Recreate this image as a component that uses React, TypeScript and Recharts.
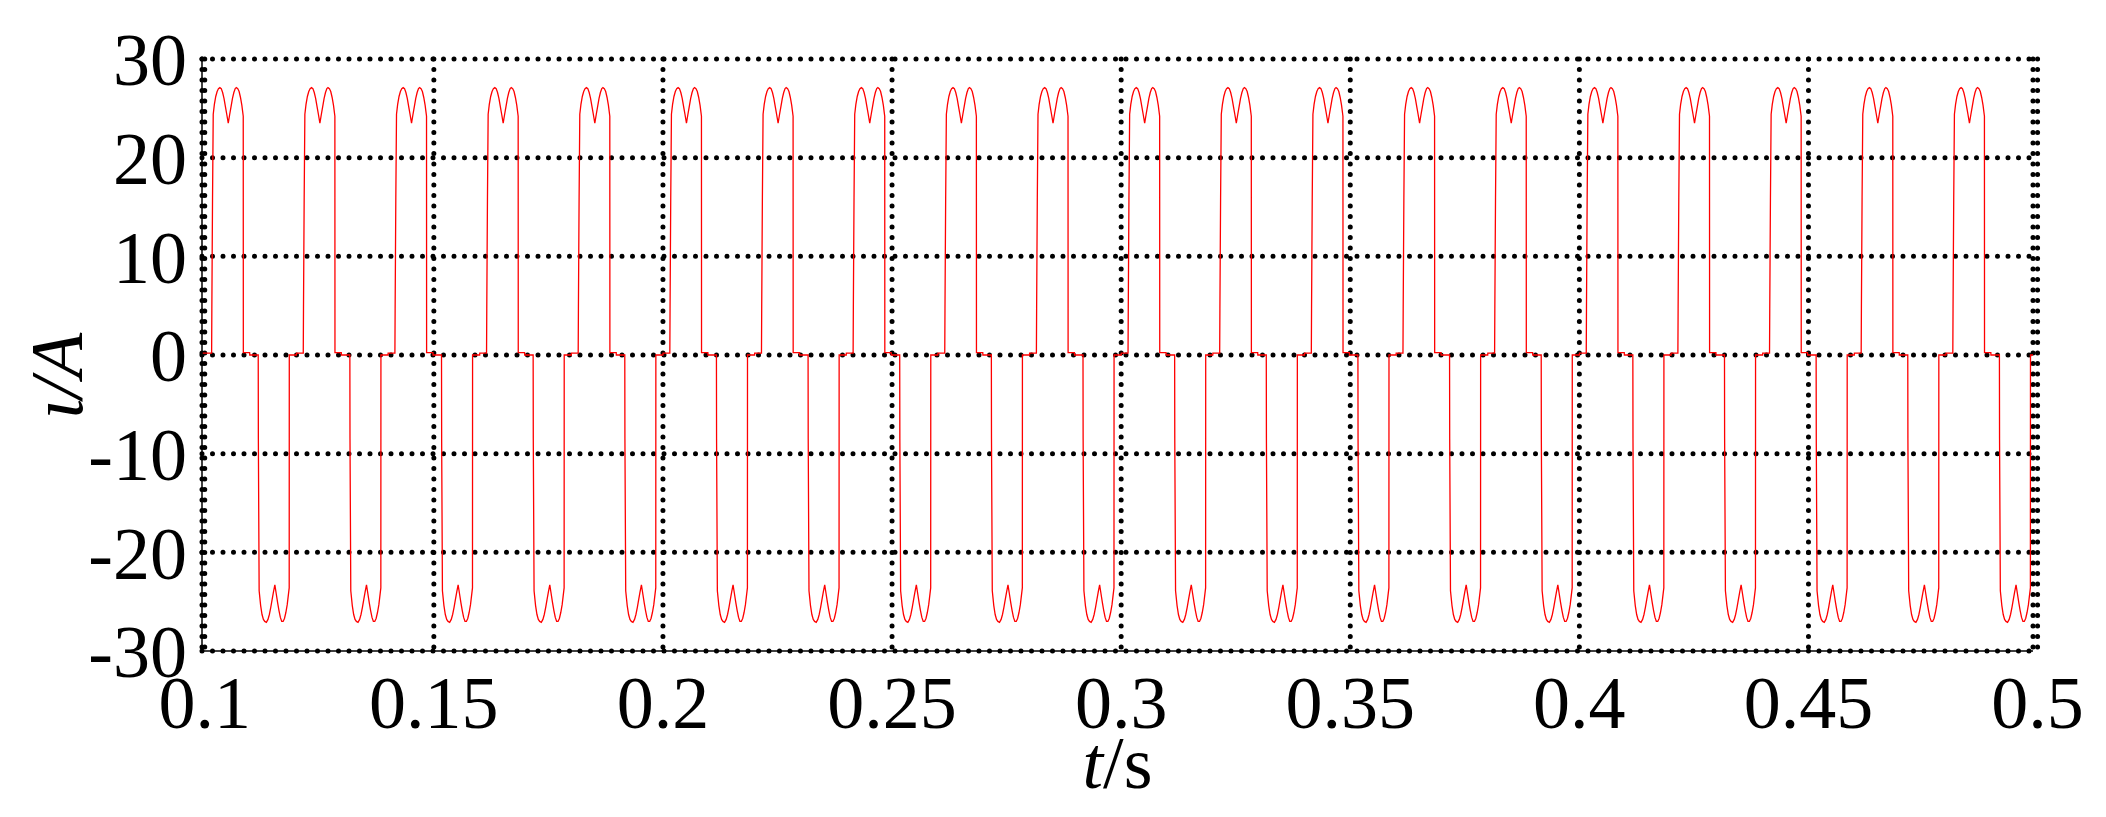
import React from 'react';
import { LineChart, Line, XAxis, YAxis, CartesianGrid, Label } from 'recharts';

// Axis ticks
const timeTicks = [0.1, 0.15, 0.2, 0.25, 0.3, 0.35, 0.4, 0.45, 0.5];
const currentTicks = [-30, -20, -10, 0, 10, 20, 30];
const timeDomain: [number, number] = [0.0994, 0.499];
const currentDomain: [number, number] = [-30, 30];

// Rise instants of each 20 ms period (s)
const periodStarts = [
  0.1015, 0.1215, 0.1415, 0.1615, 0.1815, 0.2015, 0.2215, 0.2415, 0.2615, 0.2815,
  0.3015, 0.3215, 0.3415, 0.3615, 0.3815, 0.4015, 0.4215, 0.4415, 0.4615, 0.4815,
];

// One period of the phase current: offsets from the rise (ms) and values (A)
const shapeOffsetsMs = [
  0, 0.05, 0.2, 0.35, 0.6, 0.9, 1.2, 1.5, 1.8, 2.1, 2.4, 2.7, 3.0, 3.3, 3.63,
  3.95, 4.25, 4.55, 4.85, 5.15, 5.4, 5.7, 6.0, 6.3, 6.6, 6.9, 6.92, 8.3, 8.32,
  10.17, 10.2, 10.37, 10.7, 11.0, 11.3, 11.6, 11.95, 12.3, 12.6, 12.9, 13.2, 13.5, 13.8,
  14.1, 14.4, 14.7, 15.0, 15.3, 15.6, 15.9, 16.2, 16.5, 16.93, 16.95, 18.5, 18.52, 19.97,
];
const shapeCurrents = [
  0.2, 4.7, 16.0, 24.4, 25.4, 26.2, 26.7, 27.0, 27.1, 27.0, 26.6, 26.0, 25.2, 24.4, 23.5,
  24.4, 25.2, 26.0, 26.6, 27.0, 27.1, 27.0, 26.7, 26.1, 25.3, 24.2, 0.25, 0.25, 0,
  0, -8.5, -23.9, -25.4, -26.3, -26.8, -27.0, -27.1, -26.8, -26.3, -25.6, -24.8, -24.0, -23.3,
  -24.2, -25.1, -25.9, -26.6, -27.0, -27.0, -26.7, -26.1, -25.3, -23.6, 0, 0, 0.2, 0.2,
];
const leadInTime = 0.0994;
const leadInCurrent = 0.2;

const data = [
  { t: leadInTime, i: leadInCurrent },
  ...periodStarts.flatMap((t0) =>
    shapeOffsetsMs.map((ms, k) => ({ t: +(t0 + ms / 1000).toFixed(6), i: shapeCurrents[k] }))
  ),
];

const FONT = '"Liberation Serif", "Times New Roman", Times, serif';
const FS = 74;

const XTitle = (props: any) => {
  const vb = props.viewBox || { x: 0, y: 0, width: 0, height: 0 };
  return (
    <text
      x={vb.x + vb.width / 2}
      y={vb.y + vb.height - 20}
      textAnchor="middle"
      fontFamily={FONT}
      fontSize={FS}
      fill="#000"
    >
      <tspan fontStyle="italic">t</tspan>
      <tspan>/s</tspan>
    </text>
  );
};

const YTitle = (props: any) => {
  const vb = props.viewBox || { x: 0, y: 0, width: 0, height: 0 };
  const cx = vb.x + 74;
  const cy = vb.y + vb.height / 2 + 21;
  return (
    <text
      transform={`translate(${cx}, ${cy}) rotate(-90)`}
      textAnchor="middle"
      fontFamily={FONT}
      fontSize={FS}
      fontStyle="italic"
      fill="#000"
    >
      ι/A
    </text>
  );
};

const Empty = () => <g />;

const DottedLine = (p: any) => (
  <line
    x1={p.x1}
    y1={p.y1}
    x2={p.x2}
    y2={p.y2}
    stroke="#000"
    strokeWidth={5}
    strokeDasharray="0 10.5"
    strokeLinecap="round"
    fill="none"
  />
);

const tickStyle = { fill: '#000', fontSize: FS, fontFamily: FONT };
const frame = { stroke: '#000', strokeWidth: 1.5 };

export default function App() {
  return (
    <div style={{ width: 2090, height: 800, background: '#fff' }}>
      <LineChart
        width={2090}
        height={800}
        data={data}
        margin={{ top: 51, right: 65, bottom: 0, left: 0 }}
        style={{ background: '#fff' }}
      >
        <CartesianGrid horizontal={DottedLine} vertical={DottedLine} />
        <XAxis
          dataKey="t"
          type="number"
          domain={timeDomain}
          allowDataOverflow
          ticks={timeTicks}
          interval={0}
          height={157}
          tickSize={0}
          tickMargin={24}
          tickLine={false}
          axisLine={frame}
          tick={tickStyle}
        >
          <Label content={XTitle} />
        </XAxis>
        <XAxis
          xAxisId="top"
          orientation="top"
          dataKey="t"
          type="number"
          domain={timeDomain}
          allowDataOverflow
          ticks={timeTicks}
          interval={0}
          height={0}
          mirror
          tickSize={8}
          tickLine={frame}
          axisLine={frame}
          tick={Empty}
        />
        <XAxis
          xAxisId="bottomInner"
          orientation="bottom"
          dataKey="t"
          type="number"
          domain={timeDomain}
          allowDataOverflow
          ticks={timeTicks}
          interval={0}
          height={0}
          mirror
          tickSize={8}
          tickLine={frame}
          axisLine={false}
          tick={Empty}
        />
        <YAxis
          type="number"
          domain={currentDomain}
          ticks={currentTicks}
          interval={0}
          width={194}
          tickSize={0}
          tickMargin={15}
          tickLine={false}
          axisLine={frame}
          tick={tickStyle}
        >
          <Label content={YTitle} />
        </YAxis>
        <YAxis
          yAxisId="leftInner"
          type="number"
          domain={currentDomain}
          ticks={currentTicks}
          interval={0}
          width={0}
          mirror
          tickSize={8}
          tickLine={frame}
          axisLine={false}
          tick={Empty}
        />
        <YAxis
          yAxisId="right"
          orientation="right"
          type="number"
          domain={currentDomain}
          ticks={currentTicks}
          interval={0}
          width={0}
          mirror
          tickSize={8}
          tickLine={frame}
          axisLine={frame}
          tick={Empty}
        />
        <Line
          type="linear"
          dataKey="i"
          stroke="#ff0000"
          strokeWidth={1.3}
          dot={false}
          activeDot={false}
          isAnimationActive={false}
        />
      </LineChart>
    </div>
  );
}
